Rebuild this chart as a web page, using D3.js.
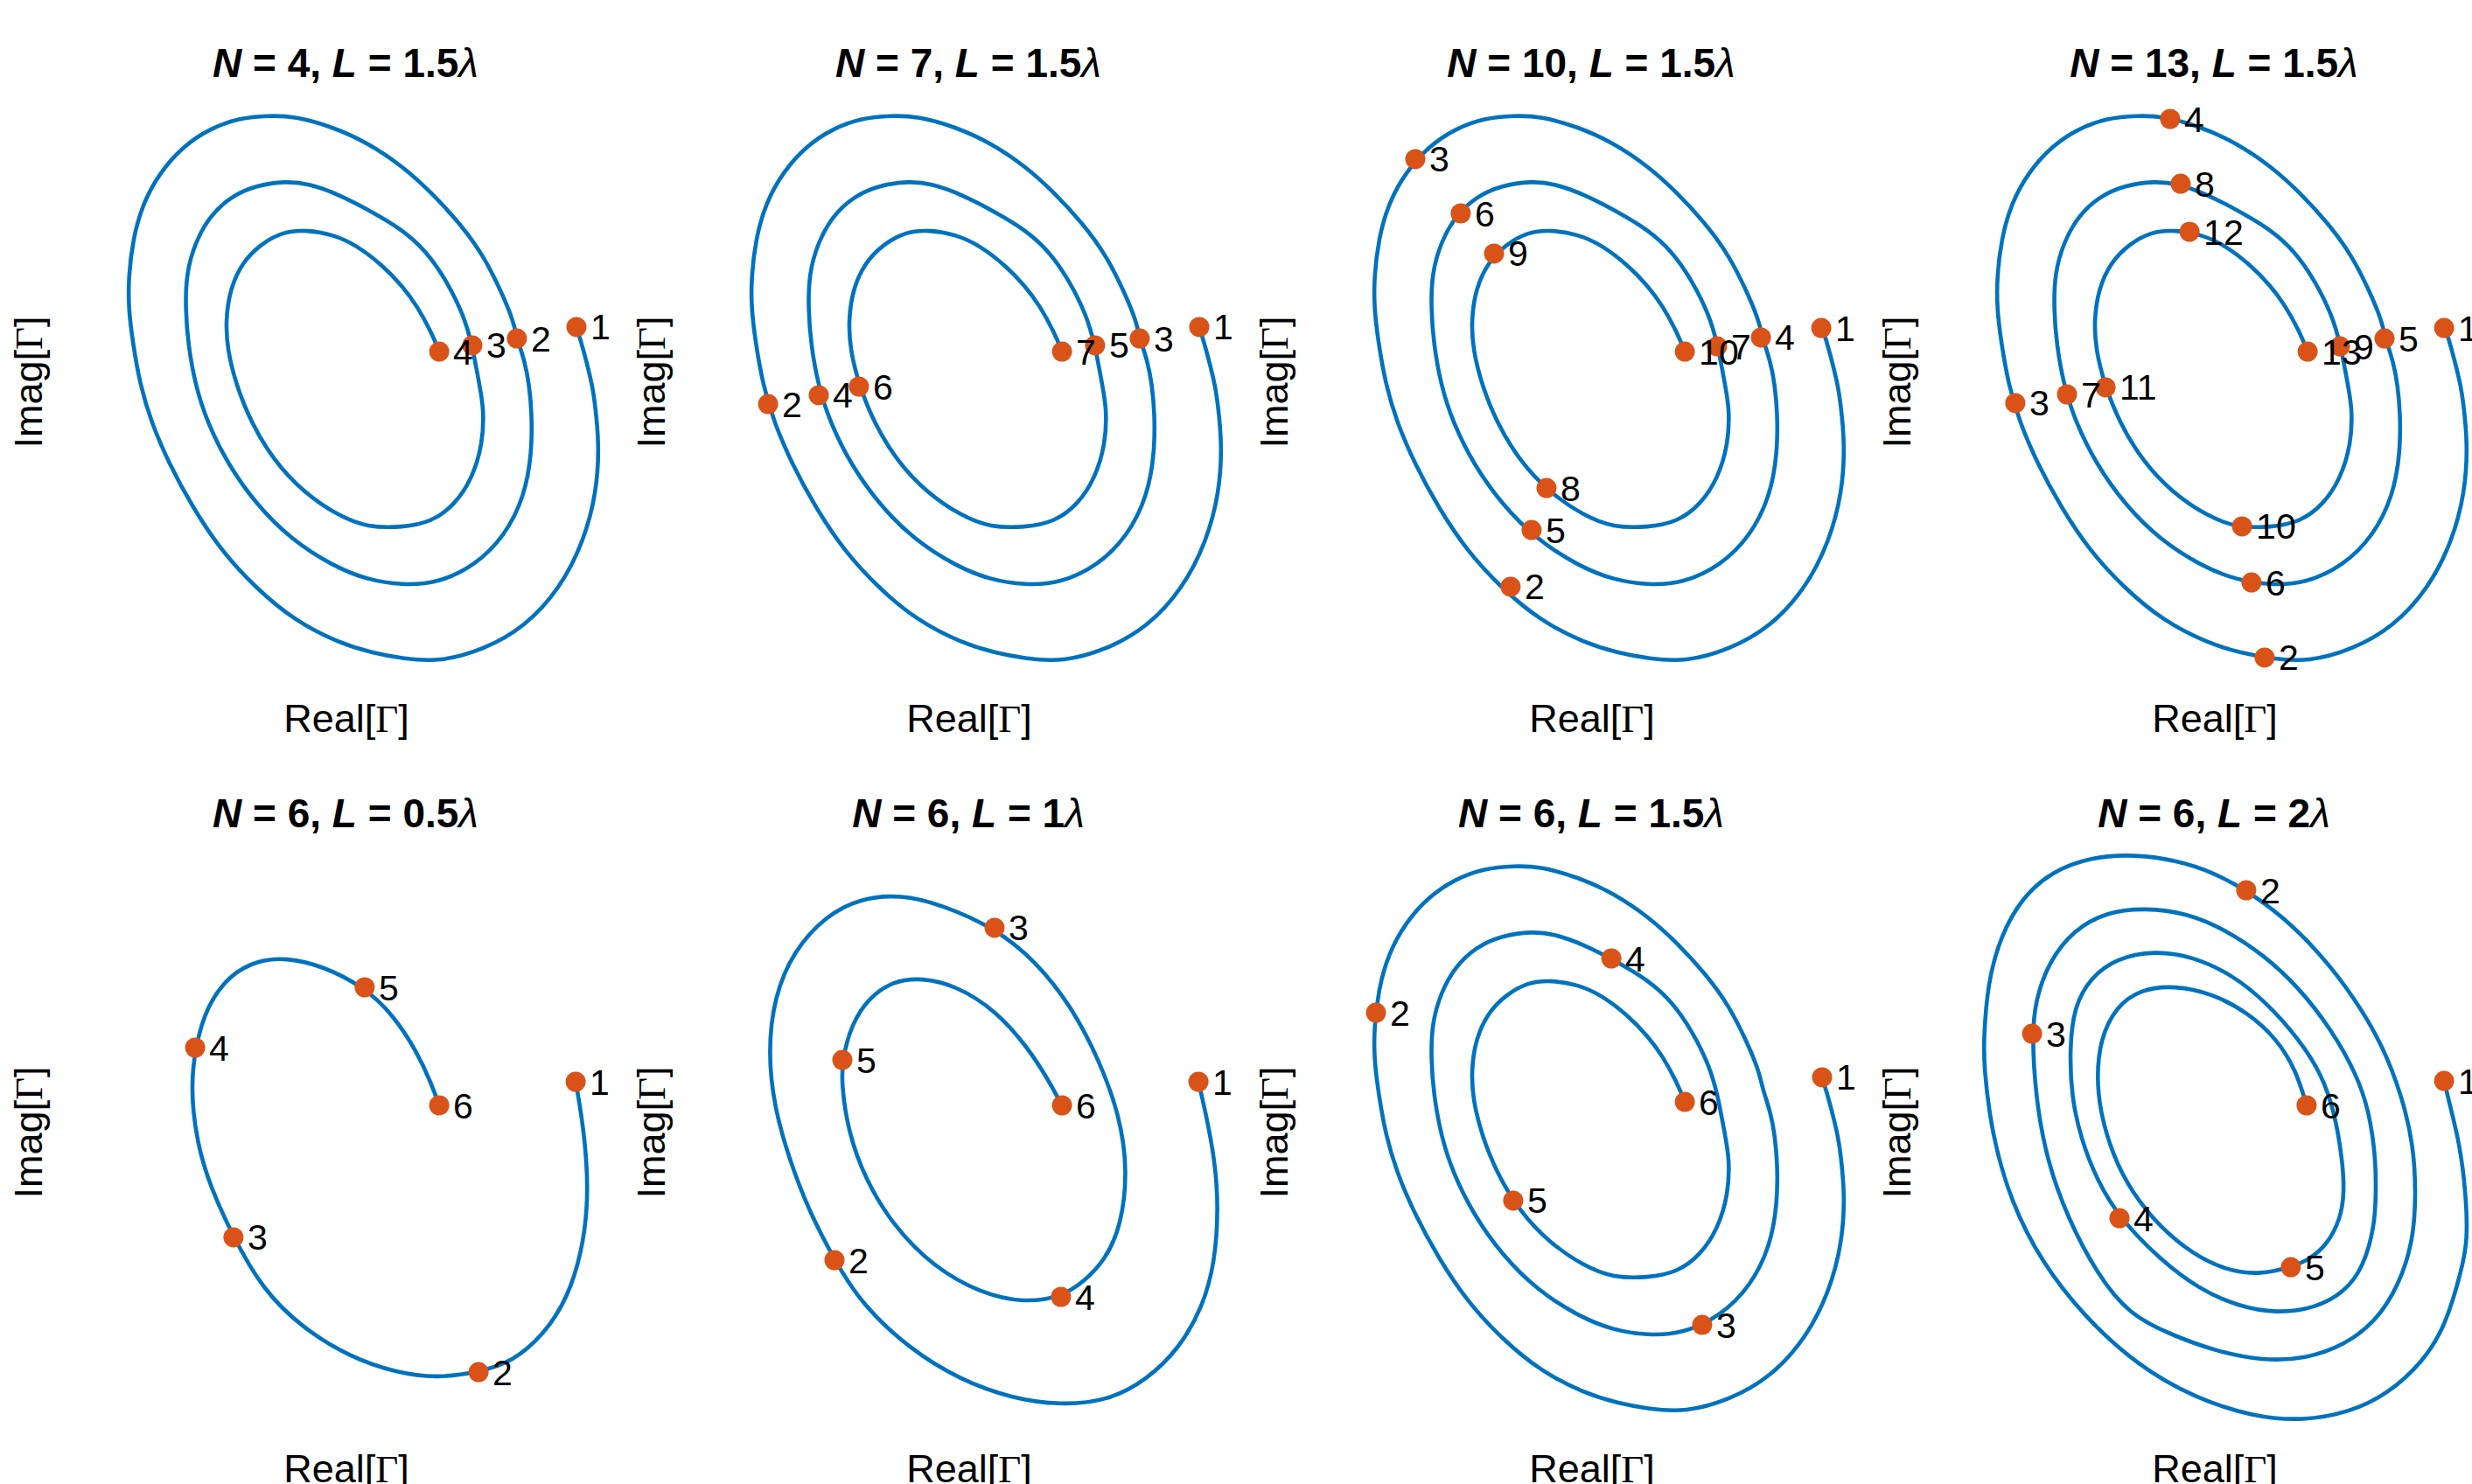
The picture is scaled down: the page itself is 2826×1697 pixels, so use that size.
<!DOCTYPE html>
<html>
<head>
<meta charset="utf-8">
<script src="https://cdn.jsdelivr.net/npm/d3@7"></script>
<style>
  html, body { margin: 0; padding: 0; background: #ffffff; }
  svg { display: block; }
</style>
</head>
<body>
<script>
// ---------------- DATA (Real[Γ], Imag[Γ]) ----------------
const curveL05 = [
  [0.877,0.220],[0.900,0.090],[0.920,-0.083],[0.923,-0.257],[0.900,-0.430],[0.847,-0.603],
  [0.757,-0.743],[0.637,-0.847],[0.507,-0.887],[0.350,-0.910],[0.197,-0.890],[0.017,-0.830],
  [-0.167,-0.717],[-0.317,-0.570],[-0.427,-0.373],[-0.513,-0.187],[-0.567,-0.013],[-0.590,0.193],
  [-0.573,0.350],[-0.530,0.507],[-0.440,0.630],[-0.333,0.683],[-0.227,0.693],[-0.090,0.663],
  [0.073,0.580],[0.183,0.473],[0.273,0.333],[0.327,0.213],[0.357,0.130]
];
const curveL10 = [
  [0.877,0.220],[0.907,0.090],[0.940,-0.083],[0.953,-0.257],[0.940,-0.467],[0.893,-0.640],
  [0.803,-0.797],[0.680,-0.917],[0.530,-0.997],[0.350,-1.013],[0.167,-0.987],[-0.030,-0.917],
  [-0.227,-0.797],[-0.410,-0.623],[-0.510,-0.460],[-0.607,-0.273],[-0.680,-0.083],[-0.740,0.123],
  [-0.763,0.333],[-0.740,0.543],[-0.667,0.717],[-0.543,0.853],[-0.410,0.920],[-0.257,0.933],
  [-0.107,0.897],[0.100,0.807],[0.257,0.680],[0.393,0.507],[0.500,0.300],[0.577,0.090],
  [0.607,-0.117],[0.583,-0.327],[0.523,-0.457],[0.440,-0.543],[0.353,-0.600],[0.213,-0.623],
  [0.047,-0.587],[-0.137,-0.483],[-0.287,-0.327],[-0.393,-0.153],[-0.460,0.037],[-0.483,0.213],
  [-0.480,0.303],[-0.447,0.437],[-0.377,0.543],[-0.287,0.603],[-0.180,0.617],[-0.047,0.587],
  [0.107,0.490],[0.227,0.350],[0.303,0.230],[0.357,0.130]
];
const curveL15 = [
  [0.880,0.237],[0.907,0.150],[0.940,0.017],[0.950,-0.050],[0.967,-0.207],[0.957,-0.393],
  [0.907,-0.583],[0.817,-0.760],[0.683,-0.907],[0.527,-0.993],[0.360,-1.040],[0.217,-1.027],
  [0.107,-1.007],[-0.027,-0.967],[-0.193,-0.883],[-0.340,-0.760],[-0.473,-0.617],[-0.583,-0.450],
  [-0.673,-0.283],[-0.740,-0.127],[-0.783,0.017],[-0.810,0.173],[-0.827,0.307],[-0.827,0.427],
  [-0.810,0.573],[-0.773,0.707],[-0.707,0.827],[-0.617,0.927],[-0.517,0.993],[-0.407,1.033],
  [-0.293,1.043],[-0.193,1.040],[-0.050,1.000],[0.083,0.940],[0.217,0.850],[0.327,0.750],
  [0.440,0.627],[0.527,0.507],[0.593,0.373],[0.640,0.260],[0.653,0.193],[0.683,0.107],
  [0.700,0.017],[0.710,-0.093],[0.710,-0.240],[0.683,-0.407],[0.607,-0.560],[0.493,-0.673],
  [0.350,-0.740],[0.217,-0.747],[0.083,-0.727],[-0.050,-0.673],[-0.207,-0.573],[-0.340,-0.440],
  [-0.450,-0.283],[-0.527,-0.127],[-0.573,0.017],[-0.600,0.173],[-0.610,0.307],[-0.607,0.440],
  [-0.573,0.560],[-0.517,0.660],[-0.440,0.733],[-0.340,0.777],[-0.227,0.793],[-0.140,0.783],
  [-0.027,0.743],[0.107,0.673],[0.217,0.607],[0.307,0.527],[0.383,0.417],[0.450,0.283],
  [0.483,0.167],[0.510,0.017],[0.527,-0.073],[0.523,-0.207],[0.483,-0.340],[0.417,-0.440],
  [0.327,-0.507],[0.217,-0.527],[0.083,-0.527],[-0.027,-0.483],[-0.160,-0.393],[-0.273,-0.273],
  [-0.360,-0.127],[-0.417,0.017],[-0.450,0.150],[-0.457,0.260],[-0.440,0.383],[-0.393,0.483],
  [-0.327,0.550],[-0.240,0.600],[-0.150,0.607],[-0.050,0.590],[0.040,0.550],[0.140,0.473],
  [0.217,0.393],[0.273,0.317],[0.327,0.217],[0.357,0.143]
];
const curveL20 = [
  [0.877,0.223],[0.900,0.127],[0.937,-0.020],[0.960,-0.203],[0.967,-0.387],[0.943,-0.500],
  [0.883,-0.710],[0.797,-0.847],[0.663,-0.970],[0.517,-1.040],[0.340,-1.073],[0.150,-1.057],
  [-0.070,-0.987],[-0.290,-0.863],[-0.497,-0.673],[-0.657,-0.467],[-0.773,-0.240],[-0.847,0.020],
  [-0.877,0.280],[-0.877,0.383],[-0.863,0.593],[-0.813,0.777],[-0.730,0.923],[-0.620,1.020],
  [-0.470,1.077],[-0.300,1.087],[-0.140,1.063],[-0.007,1.020],[0.123,0.950],[0.263,0.850],
  [0.410,0.703],[0.533,0.543],[0.643,0.360],[0.717,0.163],[0.760,-0.020],[0.770,-0.203],
  [0.760,-0.387],[0.703,-0.560],[0.617,-0.693],[0.500,-0.783],[0.350,-0.837],[0.183,-0.843],
  [0.017,-0.810],[-0.150,-0.750],[-0.323,-0.670],[-0.447,-0.510],[-0.557,-0.300],[-0.637,-0.080],
  [-0.680,0.163],[-0.693,0.403],[-0.680,0.530],[-0.630,0.677],[-0.533,0.800],[-0.410,0.867],
  [-0.263,0.883],[-0.103,0.863],[0.043,0.800],[0.190,0.703],[0.323,0.580],[0.447,0.420],
  [0.543,0.250],[0.593,0.103],[0.617,-0.080],[0.617,-0.203],[0.613,-0.327],[0.570,-0.487],
  [0.497,-0.583],[0.387,-0.643],[0.240,-0.663],[0.093,-0.637],[-0.057,-0.570],[-0.203,-0.460],
  [-0.360,-0.300],[-0.447,-0.153],[-0.507,0.003],[-0.543,0.163],[-0.550,0.347],[-0.533,0.507],
  [-0.470,0.617],[-0.373,0.690],[-0.227,0.720],[-0.080,0.697],[0.067,0.630],[0.203,0.520],
  [0.323,0.383],[0.410,0.250],[0.460,0.103],[0.490,-0.080],[0.497,-0.203],[0.483,-0.300],
  [0.433,-0.400],[0.360,-0.460],[0.293,-0.487],[0.167,-0.517],[0.043,-0.497],[-0.080,-0.437],
  [-0.203,-0.337],[-0.313,-0.203],[-0.387,-0.057],[-0.433,0.103],[-0.447,0.237],[-0.433,0.383],
  [-0.373,0.507],[-0.277,0.573],[-0.153,0.587],[-0.007,0.557],[0.130,0.483],[0.240,0.383],
  [0.313,0.263],[0.353,0.130]
];

// sample points (markers) for each panel, in order 1..N
const markersP1 = [[0.880,0.237],[0.653,0.193],[0.483,0.167],[0.357,0.143]];
const markersP2 = [[0.880,0.237],[-0.763,-0.057],[0.653,0.193],[-0.570,-0.023],[0.483,0.167],[-0.417,0.010],[0.357,0.143]];
const markersP3 = [[0.877,0.233],[-0.307,-0.753],[-0.670,0.877],[0.647,0.197],[-0.227,-0.537],[-0.497,0.670],
                   [0.480,0.163],[-0.170,-0.377],[-0.370,0.517],[0.357,0.143]];
const markersP4 = [[0.877,0.233],[0.193,-1.023],[-0.757,-0.053],[-0.167,1.030],[0.650,0.193],[0.143,-0.737],
                   [-0.560,-0.020],[-0.127,0.783],[0.480,0.163],[0.107,-0.523],[-0.413,0.007],[-0.093,0.600],[0.357,0.143]];
const markersP5 = [[0.877,0.220],[0.507,-0.887],[-0.427,-0.373],[-0.573,0.350],[0.073,0.580],[0.357,0.130]];
const markersP6 = [[0.877,0.220],[-0.510,-0.460],[0.100,0.807],[0.353,-0.600],[-0.480,0.303],[0.357,0.130]];
const markersP7 = [[0.880,0.237],[-0.820,0.483],[0.423,-0.707],[0.077,0.690],[-0.297,-0.233],[0.357,0.143]];
const markersP8 = [[0.877,0.223],[0.123,0.950],[-0.693,0.403],[-0.360,-0.300],[0.293,-0.487],[0.353,0.130]];

const nValues = [4, 7, 10, 13, 6, 6, 6, 6];
const lValues = ["1.5", "1.5", "1.5", "1.5", "0.5", "1", "1.5", "2"];
const curves  = [curveL15, curveL15, curveL15, curveL15, curveL05, curveL10, curveL15, curveL20];
const markers = [markersP1, markersP2, markersP3, markersP4, markersP5, markersP6, markersP7, markersP8];
const xLabel = "Real[";
const yLabel = "Imag[";

// ---------------- DRAWING ----------------
const W = 2826, H = 1697;
const colW = 712, rowH = 858;
const lineColor = "#0072BD", markColor = "#D95319";
const sans = "'Liberation Sans', Arial, Helvetica, sans-serif";
const serif = "'Liberation Serif', 'Times New Roman', serif";

const svg = d3.select("body").append("svg")
  .attr("width", W).attr("height", H)
  .attr("viewBox", `0 0 ${W} ${H}`);
svg.append("rect").attr("width", W).attr("height", H).attr("fill", "#fff");

curves.forEach((curve, i) => {
  const c = i % 4, r = Math.floor(i / 4);
  const x0 = c * colW, y0 = r * rowH;
  const x = d3.scaleLinear().domain([-1.1, 1.1]).range([x0 + 65, x0 + 725]);
  const y = d3.scaleLinear().domain([-1.15, 1.15]).range([y0 + 790, y0 + 100]);
  const g = svg.append("g").attr("class", "panel");

  // title
  const t = g.append("text")
    .attr("x", x0 + 395).attr("y", y0 + 88)
    .attr("text-anchor", "middle")
    .attr("font-family", sans).attr("font-size", 46).attr("font-weight", "bold")
    .attr("fill", "#000");
  t.append("tspan").attr("font-style", "italic").text("N");
  t.append("tspan").text(` = ${nValues[i]}, `);
  t.append("tspan").attr("font-style", "italic").text("L");
  t.append("tspan").text(` = ${lValues[i]}`);
  t.append("tspan").attr("font-style", "italic").attr("font-weight", "normal").text("λ");

  // x label
  const xl = g.append("text")
    .attr("x", x0 + 396).attr("y", y0 + 837)
    .attr("text-anchor", "middle")
    .attr("font-family", sans).attr("font-size", 45).attr("fill", "#000");
  xl.append("tspan").text(xLabel);
  xl.append("tspan").attr("font-family", serif).text("Γ");
  xl.append("tspan").text("]");

  // y label
  const yl = g.append("text")
    .attr("transform", `translate(${x0 + 48},${y0 + 437}) rotate(-90)`)
    .attr("text-anchor", "middle")
    .attr("font-family", sans).attr("font-size", 45).attr("fill", "#000");
  yl.append("tspan").text(yLabel);
  yl.append("tspan").attr("font-family", serif).text("Γ");
  yl.append("tspan").text("]");

  // spiral
  const line = d3.line()
    .x(d => x(d[0])).y(d => y(d[1]))
    .curve(d3.curveBasis);
  g.append("path").datum(curve)
    .attr("d", line)
    .attr("fill", "none")
    .attr("stroke", lineColor)
    .attr("stroke-width", 4.6)
    .attr("stroke-linejoin", "round")
    .attr("stroke-linecap", "butt");

  // markers
  g.selectAll("circle.m").data(markers[i]).enter().append("circle")
    .attr("class", "m")
    .attr("cx", d => x(d[0])).attr("cy", d => y(d[1]))
    .attr("r", 11.5)
    .attr("fill", markColor);

  // marker labels
  g.selectAll("text.lab").data(markers[i]).enter().append("text")
    .attr("class", "lab")
    .attr("x", d => x(d[0]) + 16).attr("y", d => y(d[1]) + 14.5)
    .attr("font-family", sans).attr("font-size", 41).attr("fill", "#000")
    .text((d, k) => String(k + 1));
});
</script>
</body>
</html>
